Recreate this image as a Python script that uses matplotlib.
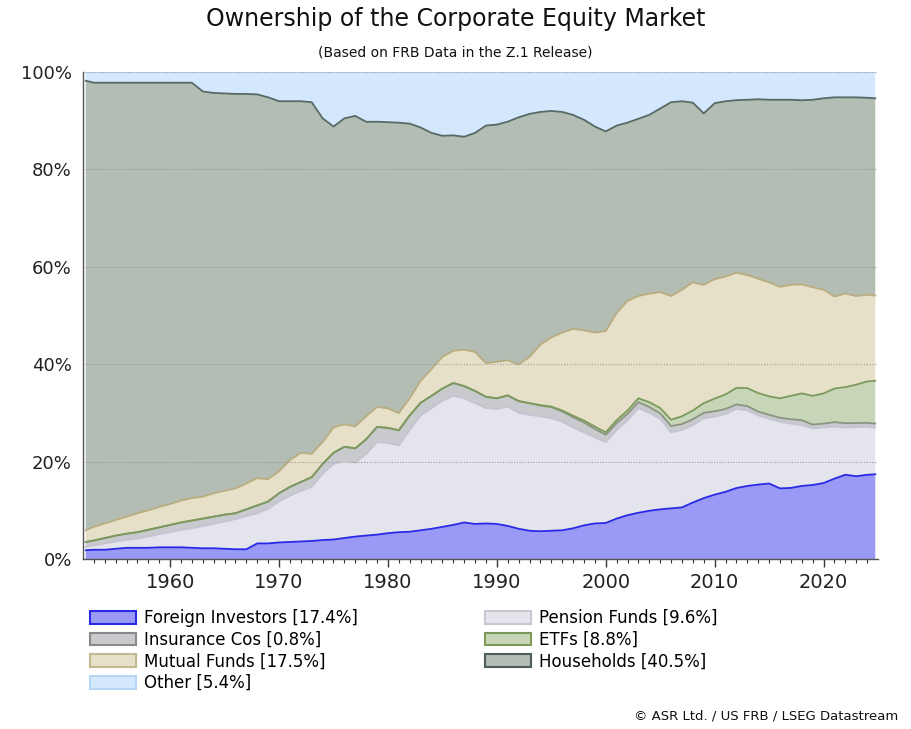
import numpy as np
import matplotlib
matplotlib.use("Agg")
import matplotlib.pyplot as plt
from matplotlib.patches import Patch

plt.rcParams['font.family'] = ['DejaVu Sans']

years = [1952.25, *range(1953, 2025), 2024.75]

foreign = [1.8, 1.9, 1.9, 2.1, 2.3, 2.3, 2.3, 2.4, 2.4, 2.4,
           2.3, 2.2, 2.2, 2.1, 2.0, 2.0, 3.2, 3.2, 3.4, 3.5,
           3.6, 3.7, 3.9, 4.0, 4.3, 4.6, 4.8, 5.0, 5.3, 5.5,
           5.6, 5.9, 6.2, 6.6, 7.0, 7.5, 7.2, 7.3, 7.2, 6.8,
           6.2, 5.8, 5.7, 5.8, 5.9, 6.3, 6.9, 7.3, 7.4, 8.3,
           9.0, 9.5, 9.9, 10.2, 10.4, 10.6, 11.6, 12.5, 13.2, 13.8,
           14.6, 15.0, 15.3, 15.5, 14.5, 14.6, 15.0, 15.2, 15.6, 16.5,
           17.3, 17.0, 17.3, 17.4]

pension = [0.7, 0.9, 1.3, 1.5, 1.6, 1.9, 2.3, 2.7, 3.1, 3.6,
           4.0, 4.6, 5.0, 5.6, 6.2, 6.8, 6.2, 7.1, 8.4, 9.5,
           10.4, 11.1, 13.6, 15.5, 15.9, 15.2, 16.7, 19.0, 18.5, 17.8,
           20.9, 23.6, 24.8, 25.9, 26.5, 25.5, 24.8, 23.7, 23.6, 24.5,
           23.8, 23.8, 23.6, 23.1, 22.3, 20.7, 19.1, 17.7, 16.6, 18.2,
           19.5, 21.5, 20.1, 18.6, 15.6, 15.9, 15.9, 16.4, 16.0, 16.0,
           16.3, 15.5, 14.2, 13.3, 13.7, 13.2, 12.5, 11.6, 11.4, 10.7,
           9.7, 10.1, 9.9, 9.6]

insurance = [1.0, 1.0, 1.1, 1.2, 1.3, 1.3, 1.4, 1.4, 1.5, 1.5,
             1.6, 1.5, 1.5, 1.4, 1.2, 1.4, 1.6, 1.5, 1.7, 1.8,
             1.8, 2.0, 2.0, 2.3, 2.8, 2.9, 3.0, 3.1, 3.1, 3.1,
             3.0, 2.6, 2.5, 2.5, 2.6, 2.5, 2.5, 2.3, 2.2, 2.3,
             2.4, 2.4, 2.2, 2.3, 2.1, 2.1, 2.0, 1.7, 1.5, 1.4,
             1.3, 1.2, 1.2, 1.1, 1.3, 1.2, 1.2, 1.1, 1.1, 1.0,
             0.9, 0.9, 0.8, 0.8, 0.8, 0.9, 1.0, 0.8, 0.8, 0.9,
             0.9, 0.8, 0.8, 0.8]

etfs = [0.0] * 41 + [0.0, 0.1, 0.1, 0.2, 0.3, 0.4, 0.5, 0.5, 0.6,
                     0.7, 0.8, 1.0, 1.1, 1.3, 1.6, 1.8, 2.0, 2.6, 3.0,
                     3.4, 3.7, 3.8, 3.8, 4.0, 4.8, 5.5, 5.9, 6.2, 6.9,
                     7.4, 7.9, 8.5, 8.8]

mutual = [2.4, 2.8, 3.0, 3.2, 3.5, 3.9, 4.0, 4.2, 4.3, 4.5,
          4.6, 4.5, 4.8, 4.9, 5.1, 5.3, 5.6, 4.6, 4.5, 5.5,
          6.0, 4.8, 4.5, 5.2, 4.6, 4.5, 4.7, 4.1, 4.0, 3.5,
          3.5, 4.5, 5.5, 6.5, 6.6, 7.5, 8.0, 6.9, 7.5, 7.2,
          7.5, 9.5, 12.4, 14.2, 16.0, 17.8, 18.5, 19.3, 20.8, 22.0,
          22.5, 21.0, 22.3, 23.8, 25.4, 26.0, 26.3, 24.3, 24.5, 24.2,
          23.7, 23.2, 23.5, 23.4, 22.9, 22.8, 22.4, 22.3, 21.3, 18.9,
          19.2, 18.2, 17.8, 17.5]

households = [92.3, 91.2, 90.5, 89.8, 89.1, 88.4, 87.8, 87.1, 86.5, 85.8,
              85.2, 83.2, 82.2, 81.6, 81.0, 80.0, 78.8, 78.4, 76.0, 73.7,
              72.2, 72.2, 66.5, 61.8, 62.7, 63.7, 60.3, 58.5, 58.7, 59.6,
              56.4, 52.1, 48.5, 45.4, 44.2, 43.7, 45.0, 48.8, 48.7, 49.0,
              50.7, 49.9, 47.8, 46.5, 45.3, 43.9, 43.2, 42.3, 41.0, 38.5,
              36.6, 36.4, 36.7, 37.7, 39.8, 38.7, 36.9, 35.2, 36.1, 36.0,
              35.5, 36.0, 36.9, 37.5, 38.4, 38.0, 37.8, 38.5, 39.3, 40.9,
              40.3, 40.8, 40.5, 40.5]

other = [1.8, 2.2, 2.2, 2.2, 2.2, 2.2, 2.2, 2.2, 2.2, 2.2,
         2.2, 4.0, 4.3, 4.4, 4.5, 4.5, 4.6, 5.2, 6.0, 6.0,
         6.0, 6.2, 9.5, 11.2, 9.5, 9.0, 10.2, 10.2, 10.3, 10.4,
         10.6, 11.4, 12.5, 13.1, 13.0, 13.3, 12.5, 11.0, 10.8, 10.2,
         9.3, 8.6, 8.2, 8.0, 8.2, 8.8, 9.8, 11.2, 12.2, 11.0,
         10.4, 9.6, 8.8, 7.5, 6.2, 6.0, 6.3, 8.5, 6.4, 6.0,
         5.8, 5.7, 5.6, 5.7, 5.7, 5.7, 5.8, 5.7, 5.4, 5.2,
         5.2, 5.2, 5.3, 5.4]

labels = ["Foreign Investors [17.4%]", "Pension Funds [9.6%]", "Insurance Cos [0.8%]",
          "ETFs [8.8%]", "Mutual Funds [17.5%]", "Households [40.5%]", "Other [5.4%]"]

fills = ['#9a9af6', '#e4e4ec', '#c9cacd', '#c6d6b6', '#e7e0c9', '#b4bdb3', '#d3e8fc']
lines = ['#2a2ae6', '#c4c4d2', '#8c9484', '#7c9a5c', '#b9ad80', '#566a66', '#b6d6f6']
legend_edges = ['#2a2ae6', '#c8c8d2', '#8a8a8a', '#7c9a5c', '#c4b890', '#4c5c58', '#b6d6f6']

x = np.array(years, dtype=float)
data = np.array([foreign, pension, insurance, etfs, mutual, households, other], dtype=float)
data = data / data.sum(axis=0) * 100.0
cum = np.cumsum(data, axis=0)

fig = plt.figure(figsize=(9.11, 7.29), dpi=100)
ax = fig.add_axes([83 / 911, 1 - 559 / 729, (878 - 83) / 911, (559 - 72) / 729])

bottom = np.zeros_like(x)
for i in range(len(data)):
    ax.fill_between(x, bottom, cum[i], facecolor=fills[i], edgecolor='none', linewidth=0, zorder=1)
    bottom = cum[i]
for i in range(len(data)):
    ax.plot(x, cum[i], color=lines[i], lw=1.3, zorder=2, solid_joinstyle='round')

ax.set_xlim(1952, 2025)
ax.set_ylim(0, 100)
ax.set_yticks([0, 20, 40, 60, 80, 100])
ax.set_yticklabels([f"{v}%" for v in [0, 20, 40, 60, 80, 100]])
ax.set_xticks(range(1960, 2021, 10))
ax.set_xticks(range(1953, 2025), minor=True)

ax.set_axisbelow(False)
ax.yaxis.grid(True, color='#8f948f', linestyle=(0, (1, 1.5)), linewidth=0.8, alpha=0.85)
ax.xaxis.grid(False)

for s in ['top', 'right']:
    ax.spines[s].set_visible(False)
for s in ['left', 'bottom']:
    ax.spines[s].set_color('#555555')
    ax.spines[s].set_linewidth(1.0)
    ax.spines[s].set_zorder(3)

ax.tick_params(axis='y', length=0, pad=8, labelsize=13, colors='#222222')
ax.tick_params(axis='x', which='major', length=6, width=1.0, pad=4, labelsize=14,
               color='#333333', labelcolor='#222222', direction='out')
ax.tick_params(axis='x', which='minor', length=3, width=0.8, color='#333333', direction='out')

fig.text(0.5, 1 - 19 / 729, "Ownership of the Corporate Equity Market", ha='center', va='center',
         fontsize=17, color='#111111')
fig.text(0.5, 1 - 52 / 729, "(Based on FRB Data in the Z.1 Release)", ha='center', va='center',
         fontsize=10, color='#111111')
fig.text(898 / 911, 1 - 716 / 729, "\u00a9 ASR Ltd. / US FRB / LSEG Datastream", ha='right', va='center',
         fontsize=9.5, color='#111111')

order = [0, 2, 4, 6, 1, 3, 5]
handles = [Patch(facecolor=fills[i], edgecolor=legend_edges[i], linewidth=1.5) for i in order]
fig.legend(handles, [labels[i] for i in order], loc='upper left',
           bbox_to_anchor=(90 / 911, 1 - 609 / 729), ncol=2, frameon=False,
           fontsize=12, handlelength=2.75, handleheight=0.8, handletextpad=0.5,
           labelspacing=0.22, columnspacing=7.6, borderpad=0, borderaxespad=0)

fig.savefig("out.png", dpi=100)
